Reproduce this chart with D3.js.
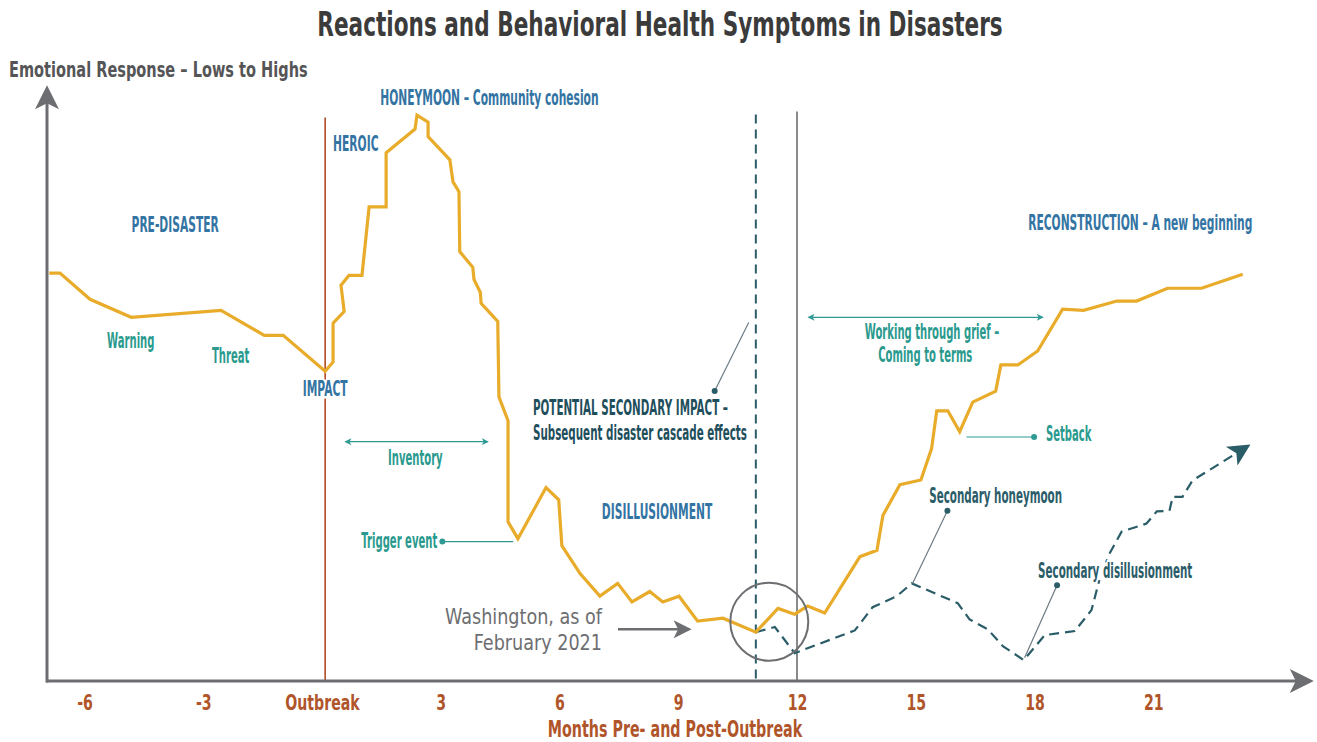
<!DOCTYPE html>
<html>
<head>
<meta charset="utf-8">
<script src="https://cdn.jsdelivr.net/npm/d3@7"></script>
<style>
  body { margin: 0; background: #fff; }
  svg text { font-family: "DejaVu Sans", sans-serif; }
  .halo { stroke: #fff; stroke-width: 5px; stroke-linejoin: round; paint-order: stroke; }
</style>
</head>
<body>
<div id="chart"></div>
<script>
// main emotional response curve (months since outbreak, relative level 0-100)
const mainMonths = [-6.89, -6.62, -5.86, -4.82, -2.55, -1.46, -0.98, 0.08, 0.28, 0.28, 0.56, 0.48, 0.68, 1.01,
  1.19, 1.62, 1.62, 2.35, 2.40, 2.68, 2.68, 3.23, 3.31, 3.46, 3.48, 3.81, 3.84, 4.0, 4.02, 4.44, 4.47, 4.70,
  4.70, 4.95, 5.66, 5.98, 6.06, 6.52, 7.02, 7.47, 7.83, 8.28, 8.61, 9.02, 9.49, 10.13, 10.96, 11.52, 11.94,
  12.27, 12.70, 13.59, 14.02, 14.17, 14.60, 15.13, 15.40, 15.53, 15.81, 16.11, 16.44, 17.02, 17.15, 17.58,
  18.08, 18.71, 19.24, 20.08, 20.58, 21.36, 22.22, 23.26];
const mainValues = [70.2, 70.2, 65.7, 62.6, 63.8, 59.5, 59.5, 53.3, 54.9, 61.6, 63.6, 68.1, 69.8, 69.8,
  81.6, 81.6, 90.9, 95.0, 97.4, 96.2, 93.7, 89.7, 85.9, 84.2, 73.9, 71.2, 69.1, 66.9, 65.0, 61.9, 48.9, 44.8,
  27.4, 24.5, 33.3, 31.2, 23.3, 18.5, 14.6, 16.8, 13.6, 15.4, 13.6, 14.6, 10.3, 10.8, 8.4, 12.5, 11.5,
  12.9, 11.7, 21.4, 22.5, 28.5, 33.8, 34.6, 40.0, 46.5, 46.5, 42.9, 48.0, 49.9, 54.4, 54.4,
  56.8, 64.0, 63.8, 65.4, 65.4, 67.6, 67.6, 70.0];

// potential secondary impact path (dashed)
const secondaryMonths = [10.96, 11.44, 11.94, 13.46, 13.91, 14.52, 14.90, 16.06, 16.36, 16.82, 17.20, 17.73,
  18.26, 19.02, 19.44, 19.65, 19.90, 20.20, 20.83, 21.09, 21.41, 21.49, 21.74, 21.99, 23.36];
const secondaryValues = [8.4, 9.3, 4.8, 8.7, 12.7, 14.6, 16.8, 13.4, 10.6, 8.9, 6.0, 3.6,
  7.9, 8.6, 12.2, 17.7, 22.0, 25.7, 27.1, 29.2, 29.3, 31.7, 31.7, 34.5, 40.3];

const tickMonths = [-6, -3, 0, 3, 6, 9, 12, 15, 18, 21];
const tickLabels = ["-6", "-3", "Outbreak", "3", "6", "9", "12", "15", "18", "21"];

// phase labels: [text, month, level, anchor]
const phaseLabels = [
  ["PRE-DISASTER", -3.71, 77.3, "middle"],
  ["HEROIC", 0.28, 91.2, "start"],
  ["HONEYMOON \u2013 Community cohesion", 1.47, 99.1, "start"],
  ["IMPACT", 0.08, 49.1, "middle"],
  ["DISILLUSIONMENT", 7.07, 27.9, "start"],
  ["RECONSTRUCTION \u2013 A new beginning", 17.84, 77.6, "start"]
];
const eventLabels = [
  ["Warning", -5.43, 57.3, "start"],
  ["Threat", -2.78, 54.7, "start"],
  ["Inventory", 1.67, 37.2, "start"],
  ["Trigger event", 2.91, 22.9, "end"],
  ["Working through grief \u2013", 15.41, 58.9, "middle"],
  ["Coming to terms", 15.24, 54.9, "middle"],
  ["Setback", 18.29, 41.3, "start"]
];
const secondaryLabels = [
  ["POTENTIAL SECONDARY IMPACT \u2013", 5.33, 45.8],
  ["Subsequent disaster cascade effects", 5.33, 41.5],
  ["Secondary honeymoon", 15.34, 30.6],
  ["Secondary disillusionment", 18.09, 17.7]
];

const width = 1317, height = 742;
const x = d3.scaleLinear().domain([0, 12]).range([322, 797]);
const y = d3.scaleLinear().domain([0, 100]).range([681, 100]);

const svg = d3.select("#chart").append("svg")
  .attr("width", width)
  .attr("height", height);

// condensed text: the original uses a narrow face, so squeeze horizontally
function addText(px, py, txt, o) {
  const t = svg.append("text")
    .attr("class", o.halo ? "halo" : null)
    .attr("transform", `translate(${px},${py}) scale(${o.sx},1)`)
    .attr("text-anchor", o.anchor || "start")
    .attr("font-size", o.size)
    .attr("font-weight", o.weight || "bold")
    .attr("fill", o.fill)
    .text(txt);
  if (o.halo) {
    // white box behind the label so lines passing under it are hidden
    const b = t.node().getBBox();
    svg.insert("rect", () => t.node())
      .attr("transform", t.attr("transform"))
      .attr("x", b.x).attr("y", b.y + 3)
      .attr("width", b.width).attr("height", b.height - 6)
      .attr("fill", "#fff");
  }
  return t;
}

const defs = svg.append("defs");
function marker(id, color, w, h) {
  defs.append("marker")
    .attr("id", id)
    .attr("viewBox", "0 0 10 10")
    .attr("refX", 8).attr("refY", 5)
    .attr("markerWidth", w).attr("markerHeight", h)
    .attr("markerUnits", "userSpaceOnUse")
    .attr("orient", "auto-start-reverse")
    .append("path")
    .attr("d", "M0,0 L10,5 L0,10 L2.5,5 Z")
    .attr("fill", color);
}
marker("axisArrow", "#6d6e71", 26, 24);
marker("tealArrow", "#2f9a93", 8, 7);
marker("grayArrow", "#6d6e71", 20, 18);
marker("darkArrow", "#2b5d69", 24, 22);

// title
addText(660, 36, "Reactions and Behavioral Health Symptoms in Disasters",
  { sx: 0.655, size: 33, fill: "#3b3b3b", anchor: "middle" });
addText(9, 77, "Emotional Response \u2013 Lows to Highs",
  { sx: 0.71, size: 20.5, fill: "#555557" });

// vertical reference lines
svg.append("line")
  .attr("x1", x(0.08)).attr("x2", x(0.08))
  .attr("y1", y(97)).attr("y2", y(0))
  .attr("stroke", "#b24a26").attr("stroke-width", 1.6);
svg.append("line")
  .attr("x1", x(10.96)).attr("x2", x(10.96))
  .attr("y1", y(97.5)).attr("y2", y(0))
  .attr("stroke", "#2b5d69").attr("stroke-width", 2)
  .attr("stroke-dasharray", "9,6");
svg.append("line")
  .attr("x1", x(12)).attr("x2", x(12))
  .attr("y1", y(98)).attr("y2", y(0))
  .attr("stroke", "#8a8a8c").attr("stroke-width", 2);

// axes with arrowheads
svg.append("line")
  .attr("x1", 46).attr("x2", 1309)
  .attr("y1", y(0)).attr("y2", y(0))
  .attr("stroke", "#6d6e71").attr("stroke-width", 3)
  .attr("marker-end", "url(#axisArrow)");
svg.append("line")
  .attr("x1", 47).attr("x2", 47)
  .attr("y1", y(0) + 1.5).attr("y2", 90)
  .attr("stroke", "#6d6e71").attr("stroke-width", 3)
  .attr("marker-end", "url(#axisArrow)");

const xAxis = d3.axisBottom(x)
  .tickValues(tickMonths)
  .tickSize(0)
  .tickPadding(13)
  .tickFormat((d, i) => tickLabels[i]);
const xAxisG = svg.append("g")
  .attr("transform", `translate(0,${y(0)})`)
  .call(xAxis);
xAxisG.select(".domain").remove();
xAxisG.selectAll("text")
  .attr("font-family", null)
  .attr("transform", "scale(0.643,1)")
  .attr("font-size", 22).attr("font-weight", "bold")
  .attr("fill", "#b0552a");

addText(675, 737, "Months Pre- and Post-Outbreak",
  { sx: 0.635, size: 22.5, fill: "#b0552a", anchor: "middle" });

// curves
const line = d3.line().x(d => x(d[0])).y(d => y(d[1]));
svg.append("path")
  .datum(secondaryMonths.map((m, i) => [m, secondaryValues[i]]))
  .attr("d", line)
  .attr("fill", "none")
  .attr("stroke", "#2b5d69").attr("stroke-width", 2.2)
  .attr("stroke-dasharray", "10,6")
  .attr("marker-end", "url(#darkArrow)");
svg.append("path")
  .datum(mainMonths.map((m, i) => [m, mainValues[i]]))
  .attr("d", line)
  .attr("fill", "none")
  .attr("stroke", "#e8ac2a").attr("stroke-width", 3.2)
  .attr("stroke-linejoin", "miter");

// labels
phaseLabels.forEach(d => addText(x(d[1]), y(d[2]), d[0],
  { sx: 0.522, size: 20.5, fill: "#3374a3", anchor: d[3], halo: d[0] === "IMPACT" }));
eventLabels.forEach(d => addText(x(d[1]), y(d[2]), d[0],
  { sx: 0.49, size: 20.5, fill: "#2a9a8e", anchor: d[3] }));
secondaryLabels.forEach((d, i) => addText(x(d[1]), y(d[2]), d[0],
  { sx: 0.505, size: 20.5, fill: i < 2 ? "#1f4f5c" : "#2b5d69", halo: i === 3 }));

// span arrows
svg.append("line")
  .attr("x1", x(0.6)).attr("x2", x(4.18))
  .attr("y1", y(41.2)).attr("y2", y(41.2))
  .attr("stroke", "#2f9a93").attr("stroke-width", 1.2)
  .attr("marker-start", "url(#tealArrow)").attr("marker-end", "url(#tealArrow)");
svg.append("line")
  .attr("x1", x(12.3)).attr("x2", x(18.2))
  .attr("y1", y(62.6)).attr("y2", y(62.6))
  .attr("stroke", "#2f9a93").attr("stroke-width", 1.2)
  .attr("marker-start", "url(#tealArrow)").attr("marker-end", "url(#tealArrow)");

// leader lines with dots
function leader(m1, v1, m2, v2, color, dot) {
  svg.append("line")
    .attr("x1", x(m1)).attr("y1", y(v1))
    .attr("x2", x(m2)).attr("y2", y(v2))
    .attr("stroke", color).attr("stroke-width", 1.2);
  svg.append("circle")
    .attr("cx", x(m2)).attr("cy", y(v2)).attr("r", 3)
    .attr("fill", dot);
}
leader(4.83, 24.0, 3.04, 24.0, "#2f9a93", "#2f9a93");
leader(16.28, 42.0, 17.99, 42.0, "#2f9a93", "#2f9a93");
leader(10.78, 61.7, 9.92, 49.9, "#6d7b84", "#2b5d69");
leader(14.92, 16.8, 15.8, 29.3, "#6d7b84", "#2b5d69");
leader(17.75, 4.0, 18.57, 16.5, "#6d7b84", "#2b5d69");

// Washington marker
svg.append("circle")
  .attr("cx", x(11.3)).attr("cy", y(10.2)).attr("r", 39)
  .attr("fill", "none").attr("stroke", "#6d6e71").attr("stroke-width", 2);
addText(602, 624, "Washington, as of", { sx: 0.80, size: 22, weight: "normal", fill: "#6d6e71", anchor: "end" });
addText(602, 650, "February 2021", { sx: 0.80, size: 22, weight: "normal", fill: "#6d6e71", anchor: "end" });
svg.append("line")
  .attr("x1", 618).attr("x2", 688)
  .attr("y1", y(8.9)).attr("y2", y(8.9))
  .attr("stroke", "#6d6e71").attr("stroke-width", 2.4)
  .attr("marker-end", "url(#grayArrow)");
</script>
</body>
</html>
